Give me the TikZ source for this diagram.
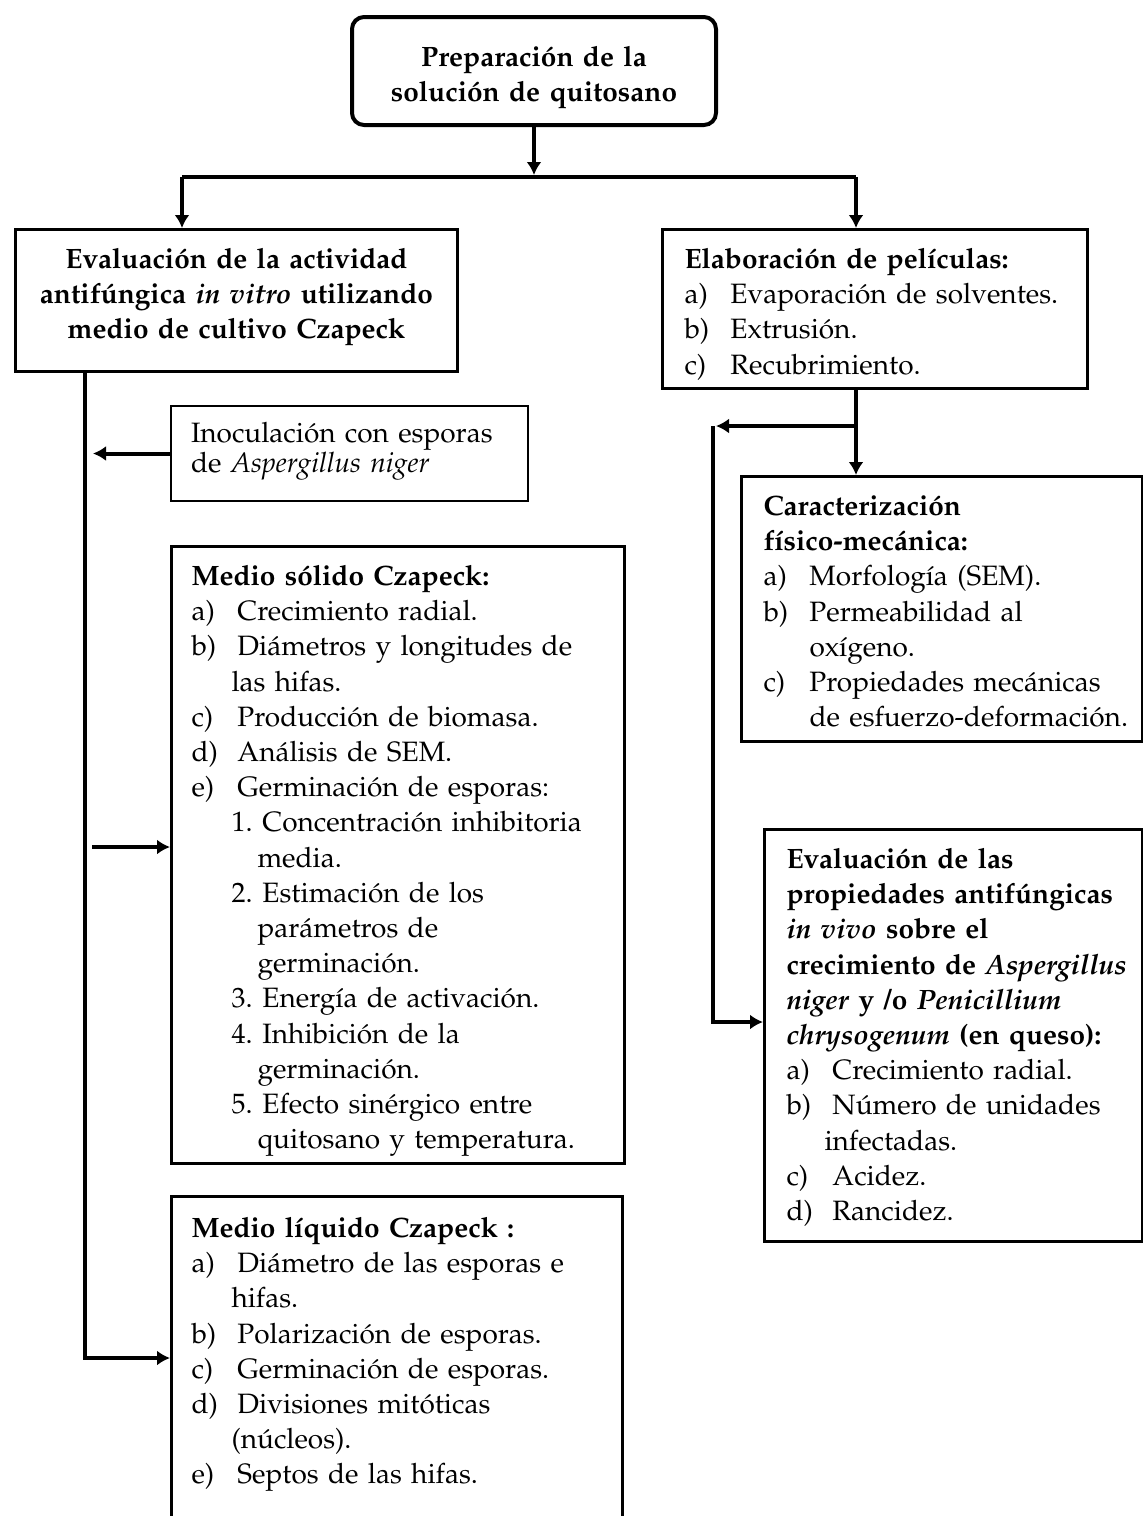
\documentclass[tikz,border=0pt]{standalone}
\usepackage[T1]{fontenc}
\usepackage{mathpazo}
\usepackage{tikz}
\usetikzlibrary{positioning,arrows.meta,calc}
\tikzset{>={Latex[length=6.5pt,width=7.5pt]}}

\newcommand{\boxfont}{\fontsize{14}{17.6}\selectfont}
\newcommand{\itm}[2]{\makebox[23pt][l]{#1}#2}
\newcommand{\subitm}[2]{\hspace*{20pt}\makebox[15.5pt][l]{#1}#2}
\newcommand{\cnt}[1]{\hspace*{#1}}

\tikzset{
  flow/.style={line width=2pt},
  box/.style={draw, line width=1.5pt, anchor=north west, inner xsep=0pt, inner ysep=0pt,
    text height=19.5pt, font=\boxfont},
  cbox/.style={box, align=center, font=\boxfont\bfseries},
  lbox/.style={box, align=left, execute at begin node={\leftskip=#1\relax}},
  lbox/.default=10pt
}

\begin{document}
\begin{tikzpicture}[x=0.5pt, y=-0.5pt]
  \path[use as bounding box, clip] (0,0) rectangle (1143,1516);

  \node[cbox, rounded corners=6pt, line width=2pt, text width=182pt,
    text height=24.5pt, text depth=29.5pt] (prep) at (350,15)
    {Preparación de la\\solución de quitosano};
  \node[cbox, text width=221pt, text depth=51.5pt] (evitro) at (14,228)
    {Evaluación de la actividad\\antifúngica \textit{in vitro} utilizando\\medio de cultivo Czapeck};
  \node[lbox=11pt, text width=212.5pt, text depth=60pt] (elab) at (661,228)
    {\textbf{Elaboración de películas:}\\
     \itm{a)}{Evaporación de solventes.}\\
     \itm{b)}{Extrusión.}\\
     \itm{c)}{Recubrimiento.}};
  \node[lbox=10pt, line width=1pt, text width=178.5pt, text height=18pt, text depth=29.5pt,
    font=\fontsize{14}{15}\selectfont] (inoc) at (170,405)
    {Inoculación con esporas\\de \textit{Aspergillus niger}};
  \node[lbox=10pt, text width=226.5pt, text depth=289pt] (solido) at (170,545)
    {\textbf{Medio sólido Czapeck:}\\
     \itm{a)}{Crecimiento radial.}\\
     \itm{b)}{Diámetros y longitudes de}\\
     \cnt{20pt}las hifas.\\
     \itm{c)}{Producción de biomasa.}\\
     \itm{d)}{Análisis de SEM.}\\
     \itm{e)}{Germinación de esporas:}\\
     \subitm{1.}{Concentración inhibitoria}\\
     \cnt{33pt}media.\\
     \subitm{2.}{Estimación de los}\\
     \cnt{33pt}parámetros de\\
     \cnt{33pt}germinación.\\
     \subitm{3.}{Energía de activación.}\\
     \subitm{4.}{Inhibición de la}\\
     \cnt{33pt}germinación.\\
     \subitm{5.}{Efecto sinérgico entre}\\
     \cnt{33pt}quitosano y temperatura.};
  \node[lbox=10pt, text width=225.5pt, text height=20.5pt, text depth=164.5pt] (liquido) at (170,1195)
    {\textbf{Medio líquido Czapeck :}\\
     \itm{a)}{Diámetro de las esporas e}\\
     \cnt{20pt}hifas.\\
     \itm{b)}{Polarización de esporas.}\\
     \itm{c)}{Germinación de esporas.}\\
     \itm{d)}{Divisiones mitóticas}\\
     \cnt{20pt}(núcleos).\\
     \itm{e)}{Septos de las hifas.}};
  \node[lbox=11pt, text width=200.5pt, text depth=113pt] (carac) at (740,475)
    {\textbf{Caracterización}\\
     \textbf{físico-mecánica:}\\
     \itm{a)}{Morfología (SEM).}\\
     \itm{b)}{Permeabilidad al}\\
     \cnt{23pt}oxígeno.\\
     \itm{c)}{Propiedades mecánicas}\\
     \cnt{23pt}de esfuerzo-deformación.};
  \node[lbox=11pt, text width=189pt, text depth=186.5pt] (vivo) at (763,828)
    {\textbf{Evaluación de las}\\
     \textbf{propiedades antifúngicas}\\
     \textbf{\textit{in vivo} sobre el}\\
     \textbf{crecimiento de \textit{Aspergillus}}\\
     \textbf{\textit{niger} y /o \textit{Penicillium}}\\
     \textbf{\textit{chrysogenum} (en queso):}\\
     \itm{a)}{Crecimiento radial.}\\
     \itm{b)}{Número de unidades}\\
     \cnt{19pt}infectadas.\\
     \itm{c)}{Acidez.}\\
     \itm{d)}{Rancidez.}};

  % split below the top box
  \coordinate (lsplit) at ($(evitro.north west)+(168,-51)$);
  \coordinate (rsplit) at ($(elab.north west)+(195,-51)$);
  \draw[flow] (lsplit) -- (rsplit);
  \draw[flow,->,shorten >=1pt] (prep.south) -- (prep.south |- lsplit);
  \draw[flow,->] (lsplit) -- (lsplit |- evitro.north);
  \draw[flow,->] (rsplit) -- (rsplit |- elab.north);

  % left branch
  \coordinate (lspine) at ($(evitro.south west)+(71,0)$);
  \coordinate (sarrow) at ($(solido.north west)+(0,302)$);
  \draw[flow,->] (lspine) |- ($(liquido.north west)+(0,163)$);
  \draw[flow,->,shorten >=4pt] (inoc.west) -- (inoc.west -| lspine);
  \draw[flow,->,shorten <=3.5pt] (sarrow -| lspine) -- (sarrow);

  % right branch
  \coordinate (rdrop) at ($(elab.south west)+(195,0)$);
  \coordinate (rbranch) at ($(rdrop)+(0,36)$);
  \coordinate (rcorner) at ($(rbranch)+(-143,0)$);
  \draw[flow,->] (rdrop) -- (rdrop |- carac.north);
  \draw[flow,->,shorten >=1.5pt] (rbranch) -- (rcorner);
  \draw[flow,->] (rcorner) |- ($(vivo.north west)+(0,194)$);
\end{tikzpicture}
\end{document}
